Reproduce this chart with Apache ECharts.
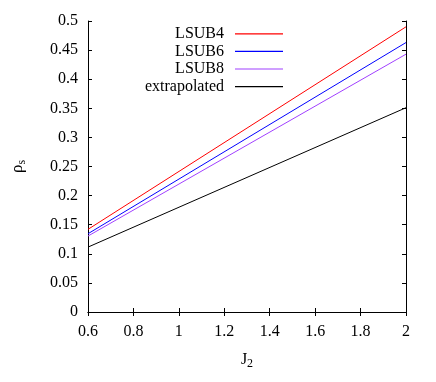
<!DOCTYPE html>
<html>
<head>
<meta charset="utf-8">
<script src="https://cdn.jsdelivr.net/npm/echarts@6/dist/echarts.min.js"></script>
<style>html,body{margin:0;padding:0;background:#fff}#chart{width:436px;height:382px}</style>
</head>
<body>
<div id="chart"></div>
<script>
// J2 values at the ends of each line
var j2 = [0.6, 2];
var lsub4 = [0.142, 0.490];
var lsub6 = [0.1345, 0.463];
var lsub8 = [0.1305, 0.443];
var extrapolated = [0.1115, 0.351];
var names = ['LSUB4', 'LSUB6', 'LSUB8', 'extrapolated'];
var colors = ['#ff0000', '#0000ff', '#a040ff', '#000000'];

function pairs(ys) {
    return j2.map(function (x, i) { return [x, ys[i]]; });
}

var font = 'Liberation Serif';
var myChart = echarts.init(document.getElementById('chart'));
var axisCommon = {
    axisLine: { show: true, lineStyle: { color: '#000', width: 1 } },
    axisTick: { show: true, inside: true, length: 4, lineStyle: { color: '#000' } },
    splitLine: { show: false }
};
myChart.setOption({
    animation: false,
    textStyle: { fontFamily: font },
    grid: { left: 88, right: 30, top: 21, bottom: 70 },
    legend: {
        orient: 'vertical',
        right: 148,
        top: 20,
        align: 'right',
        icon: 'rect',
        itemWidth: 48,
        itemHeight: 1.2,
        itemGap: 0,
        textStyle: { fontFamily: font, fontSize: 16, lineHeight: 17.6, color: '#000', padding: [0, 6, 0, 0] },
        data: names
    },
    xAxis: [
        Object.assign({
            type: 'value', min: 0.6, max: 2, interval: 0.2,
            name: '{m|J}{s|2}', nameLocation: 'middle', nameGap: 37,
            nameTextStyle: { rich: {
                m: { fontFamily: font, fontSize: 16, color: '#000' },
                s: { fontFamily: font, fontSize: 12, color: '#000', padding: [9, 0, 0, 0] }
            } },
            axisLabel: { fontFamily: font, fontSize: 16, color: '#000', margin: 12 }
        }, axisCommon),
        Object.assign({
            type: 'value', min: 0.6, max: 2, interval: 0.2, position: 'top',
            axisLabel: { show: false }
        }, axisCommon)
    ],
    yAxis: [
        Object.assign({
            type: 'value', min: 0, max: 0.5, interval: 0.05,
            name: '{m|ρ}{s|s}', nameLocation: 'middle', nameGap: 60, nameRotate: 90,
            nameTextStyle: { rich: {
                m: { fontFamily: font, fontSize: 17, color: '#000' },
                s: { fontFamily: font, fontSize: 12, color: '#000', padding: [9, 0, 0, 0] }
            } },
            axisLabel: { fontFamily: font, fontSize: 16, color: '#000', margin: 10 }
        }, axisCommon),
        Object.assign({
            type: 'value', min: 0, max: 0.5, interval: 0.05, position: 'right',
            axisLabel: { show: false }
        }, axisCommon)
    ],
    series: [lsub4, lsub6, lsub8, extrapolated].map(function (ys, i) {
        return {
            name: names[i],
            type: 'line',
            data: pairs(ys),
            showSymbol: false,
            symbol: 'none',
            color: colors[i],
            lineStyle: { color: colors[i], width: 1 }
        };
    })
});
</script>
</body>
</html>
